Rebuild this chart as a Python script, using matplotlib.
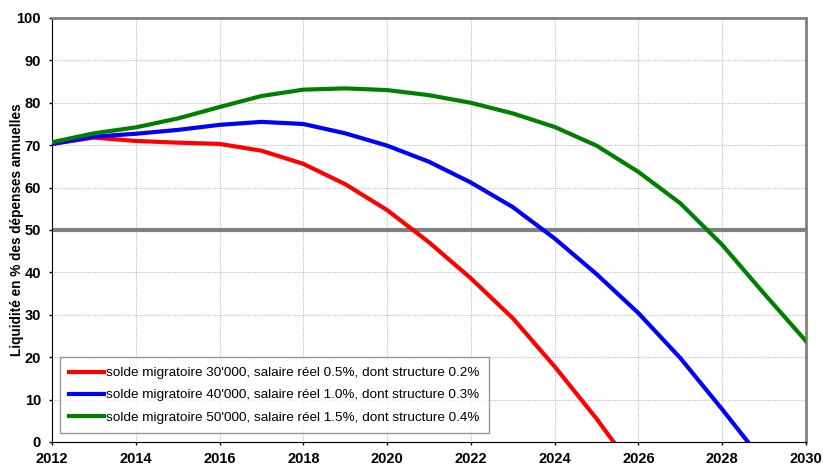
import matplotlib.pyplot as plt

plt.rcParams['font.family'] = ['Liberation Sans', 'DejaVu Sans']

# Liquidity in % of annual expenditure, per scenario
years = list(range(2012, 2031))
red_vals = [70.3, 71.8, 71.0, 70.6, 70.3, 68.7, 65.6, 60.8, 54.7, 47.1,
            38.6, 29.2, 17.8, 5.5, -8.0, None, None, None, None]
blue_vals = [70.3, 72.0, 72.7, 73.6, 74.8, 75.5, 75.0, 72.8, 69.9, 66.1,
             61.2, 55.4, 48.0, 39.6, 30.4, 19.8, 7.7, -4.8, None]
green_vals = [70.7, 72.8, 74.2, 76.3, 79.0, 81.6, 83.1, 83.4, 83.0, 81.8,
              80.0, 77.5, 74.3, 69.9, 63.7, 56.3, 46.5, 35.0, 23.8]

labels = [
    "solde migratoire 30'000, salaire réel 0.5%, dont structure 0.2%",
    "solde migratoire 40'000, salaire réel 1.0%, dont structure 0.3%",
    "solde migratoire 50'000, salaire réel 1.5%, dont structure 0.4%",
]
colors = ['#ff0000', '#0000ff', '#008000']
threshold = 50

fig = plt.figure(figsize=(8.23, 4.65), dpi=100)
ax = fig.add_axes([0.0632, 0.0495, 0.9161, 0.9118])

ax.axhline(threshold, color='#808080', lw=3, zorder=2)

for vals, col, lab in zip([red_vals, blue_vals, green_vals], colors, labels):
    xs = [y for y, v in zip(years, vals) if v is not None]
    ys = [v for v in vals if v is not None]
    ax.plot(xs, ys, color=col, lw=3, label=lab, zorder=3)

ax.set_xlim(2012, 2030)
ax.set_ylim(0, 100)
ax.set_xticks(range(2012, 2031, 2))
ax.set_yticks(range(0, 101, 10))
ax.grid(True, color='#c0c0c0', ls=(0, (1, 1)), lw=0.8)
ax.set_axisbelow(True)

for lbl in ax.get_xticklabels() + ax.get_yticklabels():
    lbl.set_fontweight('bold')
    lbl.set_fontsize(10.5)
ax.tick_params(axis='y', length=2, width=1, pad=6)
ax.tick_params(axis='x', length=2, width=1, pad=5)

ax.spines['left'].set_color('black')
ax.spines['bottom'].set_color('black')
ax.spines['top'].set_color('#808080')
ax.spines['right'].set_color('#808080')
ax.spines['top'].set_linewidth(2)
ax.spines['right'].set_linewidth(2)

ax.set_ylabel('Liquidité en % des dépenses annuelles', fontsize=9.8,
              fontweight='bold')
ax.yaxis.set_label_coords(-0.0375, 0.5)

leg = ax.legend(loc='lower left', bbox_to_anchor=(0.0106, 0.0212),
                borderaxespad=0, fontsize=9.7, frameon=True, fancybox=False,
                handlelength=2.6, handletextpad=0.1, borderpad=0.7,
                labelspacing=0.72)
leg.get_frame().set_edgecolor('#808080')
leg.get_frame().set_linewidth(1)

fig.savefig('out.png', dpi=100)
